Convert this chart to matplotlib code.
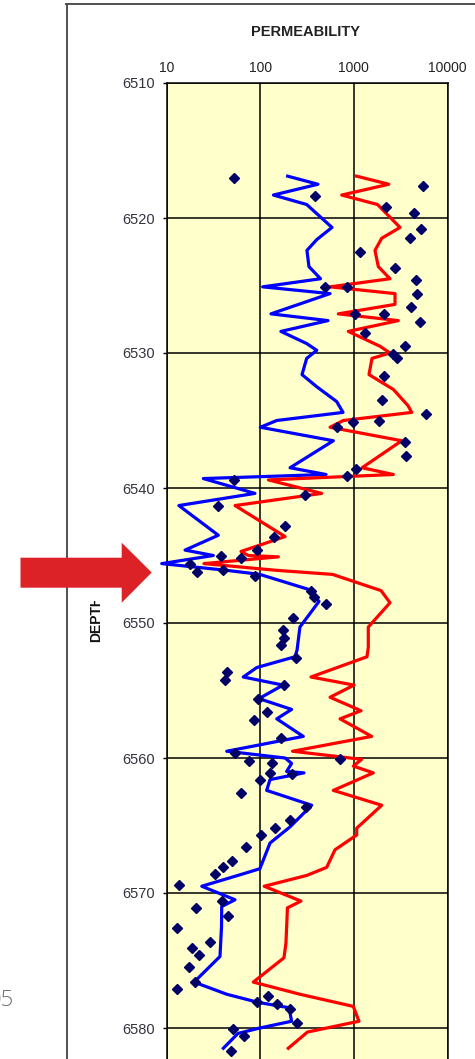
import matplotlib
matplotlib.use("Agg")
import matplotlib.pyplot as plt
from matplotlib.patches import Polygon, Rectangle
from matplotlib.lines import Line2D

plt.rcParams['font.family'] = ['Liberation Sans', 'DejaVu Sans']

# -------------------------
# Data
# -------------------------

# blue log curve
blue_depth = [6516.9, 6517.5, 6518.3, 6519.0, 6520.7, 6521.6, 6522.4, 6523.6, 6524.5, 6525.1,
              6525.6, 6527.1, 6527.6, 6528.4, 6529.3, 6529.8, 6530.4, 6531.6, 6532.5, 6533.6,
              6534.4, 6535.0, 6535.5, 6536.5, 6538.5, 6539.0, 6539.3, 6540.4, 6541.3, 6543.5,
              6544.6, 6545.0, 6545.6, 6546.1, 6546.4, 6547.5, 6548.4, 6550.3, 6552.0, 6552.5,
              6553.3, 6554.0, 6554.6, 6555.6, 6556.4, 6557.1, 6558.4, 6559.5, 6560.0, 6560.4,
              6561.0, 6561.1, 6561.6, 6562.4, 6563.5, 6565.1, 6566.3, 6568.2, 6568.5, 6569.5,
              6570.5, 6571.0, 6572.5, 6574.7, 6576.6, 6577.5, 6578.1, 6578.5, 6579.5, 6580.0,
              6580.4, 6581.5]
blue_perm = [196, 413, 138, 313, 583, 401, 315, 331, 440, 106,
             556, 130, 529, 166, 313, 401, 313, 279, 401, 655,
             765, 150, 100, 603, 208, 504, 24.6, 87.7, 13.5, 35.6,
             15.7, 31.5, 8.85, 43.8, 99, 324, 424, 265, 247, 235,
             91.6, 65.8, 175, 96.8, 216, 150, 288, 43.8, 184, 216,
             191, 293, 127, 117, 354, 208, 127, 99, 71.6, 23.7,
             53.7, 38.7, 38.5, 37.1, 19.6, 43.8, 94.5, 203, 216, 99,
             57.8, 40.3]

# red log curve
red_depth = [6516.9, 6517.5, 6518.3, 6519.0, 6520.7, 6521.5, 6522.4, 6523.6, 6524.5, 6525.1,
             6525.6, 6526.4, 6527.1, 6527.6, 6528.4, 6529.5, 6530.0, 6530.4, 6531.6, 6532.7,
             6533.9, 6534.4, 6535.0, 6535.5, 6536.5, 6538.5, 6539.0, 6539.4, 6540.4, 6541.3,
             6543.6, 6544.7, 6545.0, 6545.1, 6545.6, 6546.1, 6546.4, 6547.6, 6548.5, 6550.3,
             6551.8, 6552.5, 6554.0, 6554.6, 6555.5, 6556.5, 6557.1, 6558.4, 6559.5, 6560.1,
             6560.6, 6561.1, 6562.4, 6563.5, 6565.2, 6565.7, 6566.8, 6568.1, 6568.7, 6569.5,
             6570.6, 6571.1, 6573.7, 6574.8, 6576.6, 6577.5, 6578.4, 6579.5, 6580.3, 6581.5]
red_perm = [1066, 2360, 741, 1786, 3110, 1982, 1680, 1823, 2430, 556,
            2750, 2750, 681, 2980, 871, 1900, 2430, 1560, 1450, 2640,
            3785, 4150, 771, 556, 3240, 1222, 2640, 122, 453, 53.7,
            184, 62.2, 74.5, 156, 25.0, 150, 591, 1950, 2430, 1425,
            1425, 1380, 348, 1003, 556, 1191, 711, 1549, 221, 1211,
            985, 1612, 603, 1982, 1072, 1072, 628, 512, 313, 110,
            272, 195, 188, 179, 84.2, 265, 985, 1133, 319, 199]

# core plug measurements
core_depth = [6517.0, 6518.4, 6517.6, 6519.2, 6519.6, 6520.8, 6521.5, 6522.5, 6523.7, 6524.6,
              6525.6, 6525.1, 6525.1, 6526.6, 6527.1, 6527.1, 6527.7, 6528.5, 6529.5, 6530.1,
              6530.4, 6531.7, 6533.5, 6534.5, 6535.0, 6535.1, 6535.5, 6536.6, 6537.6, 6538.6,
              6539.1, 6539.4, 6540.5, 6541.3, 6542.8, 6543.6, 6544.6, 6545.2, 6545.0, 6545.6,
              6546.2, 6546.1, 6546.5, 6547.6, 6548.1, 6548.6, 6549.6, 6550.5, 6551.1, 6551.6,
              6552.6, 6553.6, 6554.2, 6554.6, 6555.6, 6556.6, 6557.2, 6558.5, 6559.6, 6560.2,
              6560.4, 6560.1, 6561.1, 6561.2, 6561.6, 6562.6, 6563.6, 6564.6, 6565.2, 6565.7,
              6566.6, 6567.6, 6568.1, 6568.6, 6569.4, 6570.6, 6571.1, 6571.7, 6572.6, 6573.6,
              6574.1, 6574.6, 6575.5, 6576.6, 6577.1, 6577.6, 6578.1, 6578.2, 6578.6, 6579.6,
              6580.1, 6580.6, 6581.7]
core_perm = [52.4, 384, 5510, 2220, 4410, 5250, 3970, 1170, 2730, 4580,
             4720, 488, 850, 4100, 1020, 2085, 5050, 1298, 3515, 2640,
             2910, 2120, 1982, 5860, 1854, 985, 668, 3490, 3630, 1059,
             848, 53, 300, 34.9, 184, 141, 92.9, 62.7, 38.3, 17.7,
             21.2, 39.9, 88.5, 345, 375, 507, 222, 176, 181, 167,
             238, 44.1, 42.3, 178, 94.5, 118, 86.1, 167, 54.3, 75.2,
             135, 719, 127, 216, 98.6, 62.7, 309, 208, 145, 102,
             70.3, 49.5, 40.3, 32.8, 13.5, 38.7, 20.5, 45.5, 13.0, 29.0,
             18.5, 22.2, 17.2, 20.1, 13.0, 122, 92.2, 150, 206, 245,
             50.7, 67.5, 49.0]

x_ticks = [10, 100, 1000, 10000]
x_labels = ["10", "100", "1000", "10000"]
y_ticks = [6510, 6520, 6530, 6540, 6550, 6560, 6570, 6580]

# -------------------------
# Figure
# -------------------------

W, H = 475, 1059
fig = plt.figure(figsize=(W / 100, H / 100), dpi=100)
fig.patch.set_facecolor("white")

def fx(px):
    return px / W

def fy(py):
    return 1 - py / H

# page frame
fig.add_artist(Line2D([fx(66.5), fx(66.5)], [fy(4), 0], color="#505050", lw=1.4))
fig.add_artist(Line2D([fx(66), 1], [fy(4), fy(4)], color="#505050", lw=1.4))

# plot area runs below the bottom of the page
top_px, ft_px = 83, 13.5
bot_px = top_px + 80 * ft_px
ax = fig.add_axes([fx(166.7), fy(bot_px), (447.5 - 166.7) / W, (bot_px - top_px) / H])
ax.set_facecolor("#ffffcc")

ax.plot(blue_perm, blue_depth, color="#0000ff", lw=2.3, clip_on=False, zorder=3)
ax.plot(red_perm, red_depth, color="#ff0000", lw=2.3, clip_on=False, zorder=4)
ax.plot(core_perm, core_depth, linestyle="none", marker="D", ms=4.8,
        color="#000066", zorder=5)

ax.set_xscale("log")
ax.set_xlim(10, 10000)
ax.set_ylim(6590, 6510)
ax.set_xticks(x_ticks)
ax.set_xticklabels(x_labels)
ax.minorticks_off()
ax.set_yticks(y_ticks)
ax.xaxis.tick_top()
ax.tick_params(axis="x", length=0, pad=6, labelsize=10, labelcolor="#222222")
ax.tick_params(axis="y", length=3, width=1, pad=5.5, labelsize=10.5, labelcolor="#333340")
ax.grid(True, color="black", lw=1.1)
ax.set_axisbelow(True)
for s in ax.spines.values():
    s.set_color("black")
    s.set_linewidth(1.1)

fig.text(fx(306), fy(32.5), "PERMEABILITY", ha="center", va="center",
         fontsize=10.5, fontweight="bold", color="#222222")

# depth label, its top end trimmed just under the arrow
depth_lbl = fig.text(fx(96), fy(619), "DEPTH", ha="center", va="center", rotation=90,
                     fontsize=10, fontweight="bold", color="#111111", zorder=1)
lbl_clip = Rectangle((fx(80), fy(700)), fx(40), fy(601) - fy(700),
                     transform=fig.transFigure, visible=False)
fig.add_artist(lbl_clip)
depth_lbl.set_clip_path(lbl_clip)

# red pointer arrow
arrow_px = [(20.5, 557.7), (121.7, 557.7), (121.7, 542.7), (151.7, 572.5),
            (121.7, 602.7), (121.7, 587.7), (20.5, 587.7)]
fig.add_artist(Polygon([(fx(x), fy(y)) for x, y in arrow_px], closed=True,
                       facecolor="#dc2127", edgecolor="none",
                       transform=fig.transFigure, zorder=10))

fig.text(fx(14), fy(1001), "05", ha="right", va="center", fontsize=16,
         color="#707070", family=["Open Sans", "DejaVu Sans"], fontweight="light")

fig.savefig("out.png", dpi=100)
